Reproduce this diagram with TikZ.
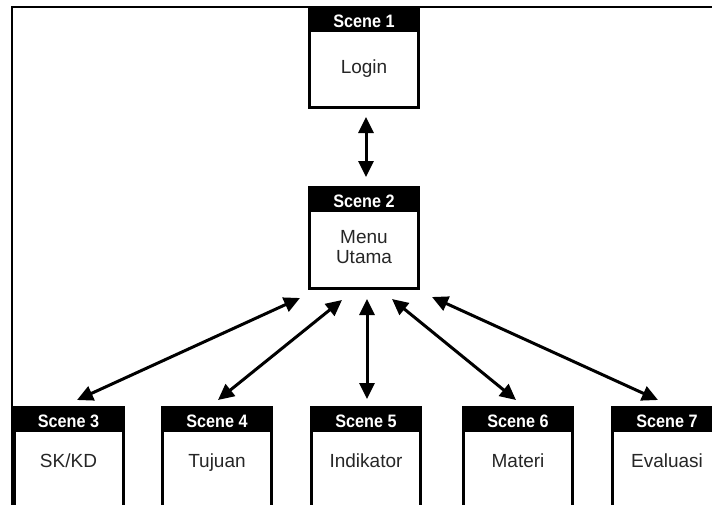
\documentclass[tikz,border=0pt]{standalone}
\usepackage{fontspec}
\setmainfont{Liberation Sans}
\newfontfamily\hdrfont{Liberation Sans}[FakeStretch=0.9]
\usetikzlibrary{arrows.meta}
\begin{document}
\begin{tikzpicture}[x=1pt,y=-1pt,
  box/.style={draw=black, line width=3pt, minimum width=109pt, minimum height=#1, anchor=north, inner sep=0pt, outer sep=0pt, fill=white},
  hdr/.style={fill=black, draw=black, line width=3pt, minimum width=109pt, minimum height=23pt, anchor=north, inner sep=0pt, outer sep=0pt},
  hdrtxt/.style={anchor=base, inner sep=0pt, text=white, font=\hdrfont\fontsize{18}{20}\selectfont\bfseries},
  lbl/.style={anchor=base, inner sep=0pt, text=black!85, font=\fontsize{19}{20}\selectfont, align=center},
  biarrow/.style={line width=3pt, {Triangle[length=16pt,width=15pt]}-{Triangle[length=16pt,width=15pt]}},
]
\useasboundingbox (0,0) rectangle (712,504);
\clip (0,0) rectangle (712,504);
\draw[line width=2pt] (12,510) -- (12,7) -- (714,7);

% Scene 1
\node[box=100pt] (s1) at (364,7) {};
\node[hdr] (h1) at (364,7) {};
\node[hdrtxt] (t1) at ([yshift=-20pt]h1.north) {Scene 1};
\node[lbl] (l1) at ([yshift=-66pt]s1.north) {Login};

% Scene 2
\node[box=101pt] (s2) at (364,187) {};
\node[hdr] (h2) at (364,187) {};
\node[hdrtxt] (t2) at ([yshift=-20pt]h2.north) {Scene 2};
\node[lbl, anchor=north] (l2) at ([yshift=-43pt]s2.north) {Menu\\Utama};

% bottom row
\foreach \n/\x/\t in {3/68.5/SK\slash KD, 4/217/Tujuan, 5/366/Indikator, 6/518/Materi, 7/667/Evaluasi}{
  \node[box=130pt] (s\n) at (\x,407) {};
  \node[hdr] (h\n) at (\x,407) {};
  \node[hdrtxt] (t\n) at ([yshift=-20pt]h\n.north) {Scene \n};
  \node[lbl] (l\n) at ([yshift=-60pt]s\n.north) {\t};
}

% connectors
\draw[biarrow] ([xshift=2pt,yshift=-10pt]s1.south) -- ([xshift=2pt,yshift=10pt]s2.north);
\draw[biarrow] ([xshift=-64pt,yshift=-10pt]s2.south) -- ([xshift=8.5pt,yshift=7pt]s3.north);
\draw[biarrow] ([xshift=-22pt,yshift=-12pt]s2.south) -- ([xshift=1pt,yshift=7pt]s4.north);
\draw[biarrow] ([xshift=3pt,yshift=-11pt]s2.south) -- ([xshift=1pt,yshift=8pt]s5.north);
\draw[biarrow] ([xshift=28pt,yshift=-11pt]s2.south) -- ([xshift=-2pt,yshift=7pt]s6.north);
\draw[biarrow] ([xshift=68pt,yshift=-9pt]s2.south) -- ([xshift=-9pt,yshift=7pt]s7.north);
\end{tikzpicture}
\end{document}
